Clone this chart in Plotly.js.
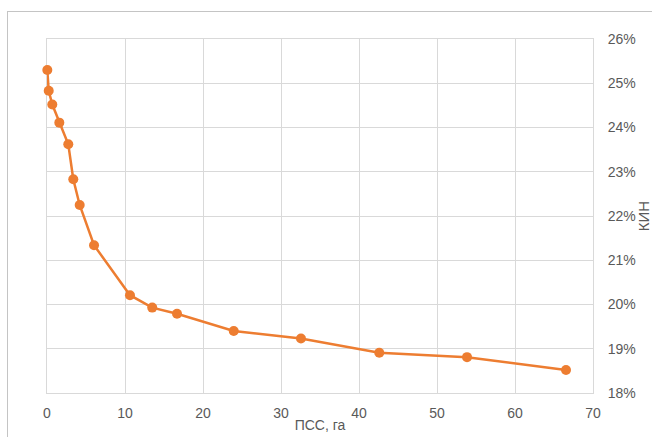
<!DOCTYPE html>
<html>
<head>
<meta charset="utf-8">
<script src="https://cdn.plot.ly/plotly-3.0.1.min.js"></script>
<style>
  html, body { margin: 0; padding: 0; background: #ffffff; overflow: hidden; }
  #frame { position: absolute; left: 7px; top: 11px; width: 700px; height: 500px; border: 1px solid #c4c4c4; box-sizing: border-box; }
  #chart { position: absolute; left: 0; top: 0; width: 652px; height: 437px; }
</style>
</head>
<body>
<div id="frame"></div>
<div id="chart"></div>
<script>
// ПСС, га
const pss = [0.04, 0.22, 0.68, 1.58, 2.73, 3.37, 4.19, 6.03, 10.64, 13.49, 16.67, 23.94, 32.56, 42.6, 53.85, 66.54];
// КИН (fraction)
const kin = [0.2530, 0.2483, 0.2452, 0.2411, 0.2362, 0.2283, 0.2225, 0.2134, 0.2021, 0.1993, 0.1979, 0.1940, 0.1923, 0.1891, 0.1881, 0.1852];

const xTicks = [0, 10, 20, 30, 40, 50, 60, 70];
const yTicks = [0.18, 0.19, 0.20, 0.21, 0.22, 0.23, 0.24, 0.25, 0.26];

const orange = '#ED7D31';
const grid = '#d9d9d9';
const txt = '#595959';
const fam = '"Liberation Sans", Arial, sans-serif';

const trace = {
  x: pss, y: kin, type: 'scatter', mode: 'lines+markers',
  line: { color: orange, width: 2.5 },
  marker: { color: orange, size: 10 },
  cliponaxis: false,
  hoverinfo: 'skip'
};

const layout = {
  width: 652, height: 437,
  margin: { l: 47, r: 59, t: 39, b: 44, pad: 0 },
  paper_bgcolor: 'rgba(0,0,0,0)',
  plot_bgcolor: 'rgba(0,0,0,0)',
  showlegend: false,
  font: { family: fam, size: 14, color: txt },
  xaxis: {
    range: [0, 70], tickvals: xTicks, ticktext: xTicks.map(String),
    showgrid: true, gridcolor: grid, gridwidth: 1,
    zeroline: false, showline: true, mirror: true, linecolor: grid, linewidth: 1,
    layer: 'below traces',
    ticks: '', ticklabelstandoff: 7,
    tickfont: { family: fam, size: 14, color: txt },
    title: { text: 'ПСС, га', font: { family: fam, size: 14, color: txt }, standoff: 0 }
  },
  yaxis: {
    side: 'right', range: [0.18, 0.26], tickvals: yTicks,
    ticktext: yTicks.map(v => Math.round(v * 100) + '%'),
    showgrid: true, gridcolor: grid, gridwidth: 1,
    zeroline: false, showline: true, mirror: true, linecolor: grid, linewidth: 1,
    layer: 'below traces',
    ticks: '', ticklabelstandoff: 11,
    tickfont: { family: fam, size: 14, color: txt },
    title: { text: 'КИН', font: { family: fam, size: 15, color: txt }, standoff: 0 }
  }
};

Plotly.newPlot('chart', [trace], layout, { staticPlot: true, displayModeBar: false });
</script>
</body>
</html>
